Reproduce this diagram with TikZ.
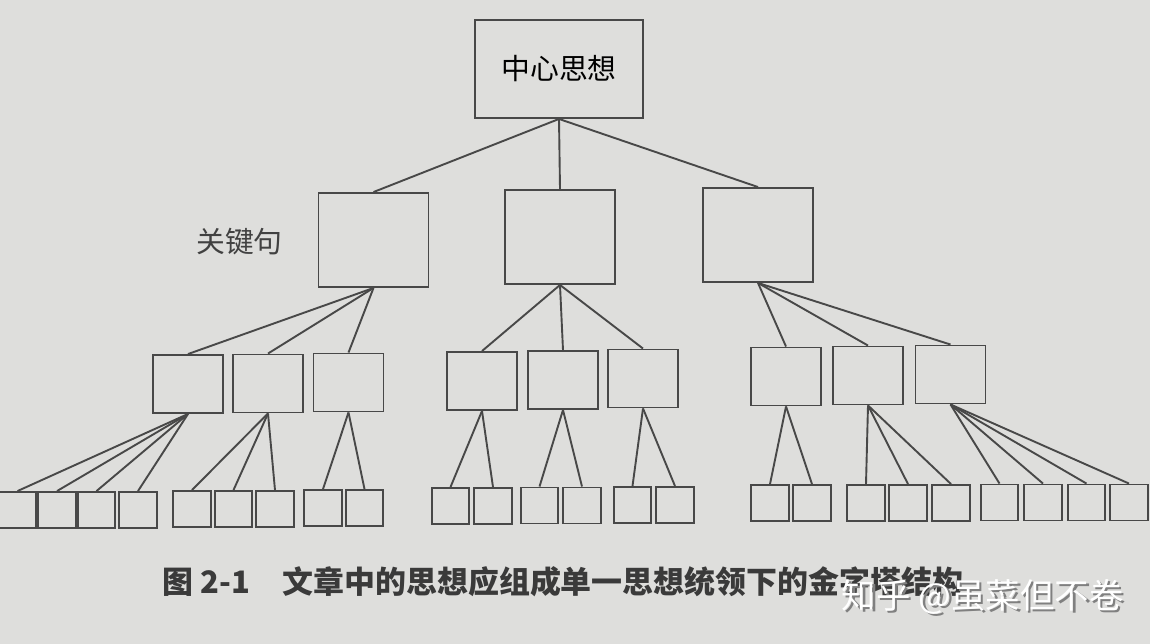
\documentclass[tikz,border=0pt]{standalone}
\usepackage{fontspec}
\setmainfont{Noto Sans CJK SC}
\usetikzlibrary{positioning}
\definecolor{page_grey}{RGB}{222,222,220}
\definecolor{ink_grey}{RGB}{72,72,72}

\begin{document}
\begin{tikzpicture}[x=0.025cm, y=-0.025cm,
      idea/.style={draw=ink_grey, line width=1.35pt, minimum width=4.2cm,
        minimum height=2.45cm, inner sep=0pt, font=\fontsize{20.5}{24}\selectfont},
      key/.style={idea, minimum width=2.75cm, minimum height=2.35cm},
      sub/.style={idea, minimum width=1.75cm, minimum height=1.45cm},
      leaf/.style={idea, minimum width=0.93cm, minimum height=0.9cm},
      link/.style={draw=ink_grey, line width=1.35pt},
      label/.style={text=ink_grey!90!black, font=\fontsize{20.5}{24}\selectfont},
      caption/.style={anchor=west, text=ink_grey!80!black,
        font=\fontsize{22}{26}\selectfont\bfseries},
      watermark/.style={anchor=west, font=\fontsize{24.5}{28}\selectfont}]

    %% ---- page ---------------------------------------------------------------
    \fill[page_grey] (0,0) rectangle (1150,644);
    \useasboundingbox (0,0) rectangle (1150,644);

    %% ---- top and key sentences ---------------------------------------------
    \node[idea] (main) at (559,69) {中心思想};

    \node[key] (k1) at (373.5,240) {};
    \node[key] (k2) at (560,237) {};
    \node[key] (k3) at (758,235) {};

    \node[label] (keylbl) at (239.5,242) {关键句};

    %% ---- third level --------------------------------------------------------
    \foreach \n/\x/\y in {A1/188/384, A2/268/383.5, A3/348.5/382.5,
                          B1/482/381, B2/563/380, B3/643/378.5,
                          C1/786/376.5, C2/868/375.5, C3/950.5/374.5}
      \node[sub] (\n) at (\x,\y) {};

    %% ---- leaves -------------------------------------------------------------
    \foreach \n/\x/\y in {a1/17.5/510, a2/57/510, a3/96.5/510, a4/138/510,
                          a5/192/509, a6/233.5/509, a7/275/509,
                          a8/323/508, a9/364.5/508,
                          b1/450.5/506, b2/493/506, b3/539.5/505.5, b4/582/505.5,
                          b5/632.5/505, b6/675/505,
                          c1/770/503, c2/812/503, c3/866/503, c4/908/503,
                          c5/951/503, c6/999.5/502.5, c7/1043/502.5,
                          c8/1086.5/502.5, c9/1129/502.5}
      \node[leaf] (\n) at (\x,\y) {};

    %% ---- connectors ---------------------------------------------------------
    \foreach \c in {k1,k2,k3}
      \draw[link] (main.south) -- (\c.north);
    \foreach \p/\c in {k1/A1, k1/A2, k1/A3, k2/B1, k2/B2, k2/B3,
                       k3/C1, k3/C2, k3/C3}
      \draw[link] (\p.south) -- (\c.north);
    \foreach \p/\c in {A1/a1, A1/a2, A1/a3, A1/a4, A2/a5, A2/a6, A2/a7,
                       A3/a8, A3/a9, B1/b1, B1/b2, B2/b3, B2/b4, B3/b5, B3/b6,
                       C1/c1, C1/c2, C2/c3, C2/c4, C2/c5,
                       C3/c6, C3/c7, C3/c8, C3/c9}
      \draw[link] (\p.south) -- (\c.north);

    %% ---- caption and watermark ----------------------------------------------
    \node[caption] (cap) at (158,582)
      {图 2-1\hspace{0.8cm}文章中的思想应组成单一思想统领下的金字塔结构};

    \node[watermark, text=black!50] (wmshade) at (839.5,599) {知乎 @虽菜但不卷};
    \node[watermark, text=white] (wm) at (837,596.5) {知乎 @虽菜但不卷};
  \end{tikzpicture}
\end{document}
